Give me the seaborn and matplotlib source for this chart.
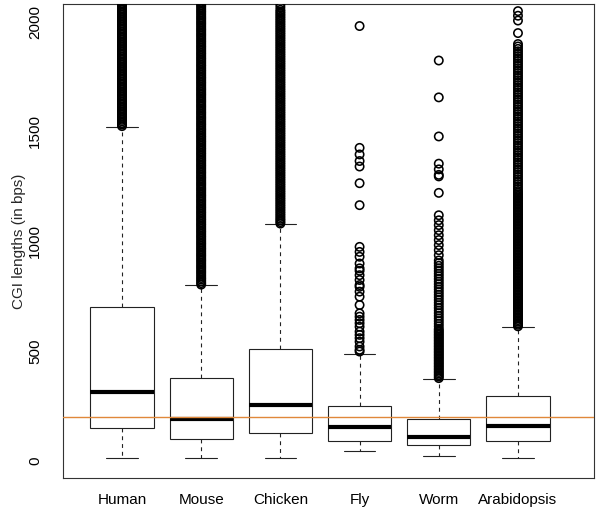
import numpy as np
import pandas as pd
import matplotlib
matplotlib.use("Agg")
import matplotlib.pyplot as plt
import seaborn as sns

species = ["Human", "Mouse", "Chicken", "Fly", "Worm", "Arabidopsis"]

# five-number summaries (whisker ends, quartiles, median)
whisker_low = [10, 10, 12, 45, 23, 10]
q1 = [150, 100, 127, 91, 73, 91]
median = [314, 191, 255, 155, 109, 159]
q3 = [698, 378, 507, 251, 191, 296]
whisker_high = [1520, 800, 1078, 487, 372, 610]

# outliers (dense runs read as closely spaced values)
human_out = [1524, 1531, 1538, 1546, 1553, 1561, 1568, 1576, 1583, 1591, 1598, 1606,
             1613, 1621, 1628, 1636, 1644, 1651, 1659, 1666, 1674, 1681, 1689, 1697,
             1704, 1712, 1719, 1727, 1735, 1742, 1750, 1757, 1765, 1773, 1780, 1788,
             1795, 1803, 1811, 1818, 1826, 1833, 1841, 1849, 1856, 1864, 1871, 1879,
             1887, 1894, 1902, 1909, 1917, 1925, 1932, 1940, 1947, 1955, 1963, 1970,
             1978, 1985, 1993, 2001, 2008, 2016, 2023, 2031, 2039, 2046, 2054, 2061,
             2069, 2077, 2084, 2092]
mouse_out = [802, 809, 817, 825, 832, 840, 848, 856, 863, 871, 879, 886, 894, 902, 910,
             917, 925, 933, 940, 948, 956, 964, 971, 979, 987, 994, 1002, 1010, 1018,
             1025, 1033, 1041, 1048, 1056, 1064, 1072, 1079, 1087, 1095, 1102, 1110,
             1118, 1126, 1133, 1141, 1149, 1156, 1164, 1172, 1180, 1187, 1195, 1203,
             1210, 1218, 1226, 1234, 1241, 1249, 1257, 1264, 1272, 1280, 1288, 1295,
             1303, 1311, 1318, 1326, 1334, 1342, 1349, 1357, 1365, 1372, 1380, 1388,
             1396, 1403, 1411, 1419, 1426, 1434, 1442, 1450, 1457, 1465, 1473, 1480,
             1488, 1496, 1504, 1511, 1519, 1527, 1534, 1542, 1550, 1558, 1565, 1573,
             1581, 1588, 1596, 1604, 1612, 1619, 1627, 1635, 1642, 1650, 1658, 1666,
             1673, 1681, 1689, 1696, 1704, 1712, 1720, 1727, 1735, 1743, 1750, 1758,
             1766, 1774, 1781, 1789, 1797, 1804, 1812, 1820, 1828, 1835, 1843, 1851,
             1858, 1866, 1874, 1882, 1889, 1897, 1905, 1912, 1920, 1928, 1936, 1943,
             1951, 1959, 1966, 1974, 1982, 1990, 1997, 2005, 2013, 2020, 2028, 2036,
             2044, 2051, 2059, 2067, 2074, 2082, 2090]
chicken_out = [1080, 1087, 1095, 1102, 1110, 1118, 1126, 1134, 1142, 1150, 1158, 1166,
               1174, 1182, 1190, 1198, 1206, 1214, 1222, 1230, 1238, 1246, 1254, 1262,
               1270, 1278, 1286, 1294, 1302, 1310, 1318, 1326, 1334, 1342, 1350, 1358,
               1366, 1374, 1382, 1390, 1398, 1406, 1414, 1422, 1430, 1438, 1446, 1454,
               1462, 1470, 1478, 1486, 1494, 1502, 1510, 1518, 1526, 1534, 1542, 1550,
               1558, 1566, 1574, 1582, 1590, 1598, 1606, 1614, 1622, 1630, 1638, 1646,
               1654, 1662, 1670, 1678, 1686, 1694, 1702, 1710, 1718, 1726, 1734, 1742,
               1750, 1758, 1766, 1774, 1782, 1790, 1798, 1806, 1814, 1822, 1830, 1838,
               1846, 1854, 1862, 1870, 1878, 1886, 1894, 1902, 1910, 1918, 1926, 1934,
               1942, 1950, 1958, 1966, 1974, 1982, 1990, 1998, 2006, 2014, 2022, 2030,
               2038, 2046, 2054, 2066, 2078]
fly_out = [497, 505, 520, 542, 558, 573, 588, 610, 626, 641, 656, 671, 709, 747, 770,
           792, 800, 823, 845, 865, 876, 898, 929, 951, 974, 1164, 1264, 1340, 1365,
           1395, 1425, 1980]
worm_out = [376, 383, 390, 397, 404, 411, 418, 425, 432, 439, 446, 453, 460, 467, 474,
            481, 488, 495, 502, 509, 516, 523, 530, 537, 544, 551, 558, 565, 572, 579,
            586, 593, 600, 612, 624, 636, 648, 660, 672, 684, 696, 708, 720, 732, 744,
            756, 768, 780, 792, 804, 816, 828, 840, 852, 864, 876, 888, 900, 912, 936,
            959, 982, 1005, 1027, 1050, 1073, 1095, 1118, 1220, 1295, 1302, 1327, 1353,
            1477, 1655, 1823]
arabidopsis_out = [612, 619, 626, 633, 640, 647, 654, 661, 668, 675, 682, 689, 696, 703,
                   710, 717, 724, 731, 738, 745, 752, 759, 766, 773, 780, 787, 794, 801,
                   808, 815, 822, 829, 836, 843, 850, 857, 864, 871, 878, 885, 892, 899,
                   906, 913, 920, 927, 934, 941, 948, 955, 962, 969, 976, 983, 990, 997,
                   1004, 1011, 1018, 1025, 1032, 1039, 1046, 1053, 1060, 1067, 1074, 1081,
                   1088, 1095, 1102, 1109, 1116, 1123, 1130, 1137, 1144, 1151, 1158, 1165,
                   1172, 1179, 1186, 1193, 1200, 1207, 1214, 1221, 1228, 1238,
                   1249, 1260, 1271, 1282, 1293, 1304, 1315, 1326, 1337, 1348, 1359, 1370,
                   1381, 1392, 1403, 1414, 1425, 1436, 1447, 1458, 1469, 1480, 1491, 1502,
                   1513, 1524, 1535, 1546, 1557, 1568, 1579, 1590, 1601, 1612, 1623, 1634,
                   1645, 1656, 1667, 1678, 1689, 1700, 1711, 1722, 1733, 1744, 1755, 1766,
                   1777, 1788, 1799, 1810, 1821, 1832, 1843, 1854, 1865, 1876, 1887, 1898,
                   1948, 2005, 2027, 2048]

threshold = 200

summary = pd.DataFrame({
    "species": np.repeat(species, 5),
    "length": np.column_stack([whisker_low, q1, median, q3, whisker_high]).ravel(),
})
out_lists = [human_out, mouse_out, chicken_out, fly_out, worm_out, arabidopsis_out]
outliers = pd.DataFrame({
    "species": np.concatenate([[s] * len(v) for s, v in zip(species, out_lists)]),
    "length": np.concatenate(out_lists),
})

sns.set_style("white")
plt.rcParams["font.family"] = ["Liberation Sans", "DejaVu Sans"]

fig = plt.figure(figsize=(6, 5.12), dpi=100)
ax = fig.add_axes([0.105, 0.066, 0.885, 0.926])

sns.boxplot(data=summary, x="species", y="length", order=species, whis=(0, 100),
            showfliers=False, width=0.8, color="white", linecolor="#222222",
            linewidth=0.8, medianprops=dict(linewidth=3, color="black"),
            whiskerprops=dict(linestyle=(0, (3.5, 3.5))), ax=ax)
ax.axhline(threshold, color="#E0883A", linewidth=1.0, zorder=5)
sns.stripplot(data=outliers, x="species", y="length", order=species, jitter=False,
              color="black", facecolors="none", edgecolor="black", linewidth=1.15,
              size=6, ax=ax)

ax.set_xlim(-0.745, 5.96)
ax.set_ylim(-80, 2080)
ax.set_yticks([0, 500, 1000, 1500, 2000])
ax.set_yticklabels(["0", "500", "1000", "1500", "2000"], rotation=90, va="center")
ax.tick_params(axis="both", direction="out", length=7, width=0.8, colors="#333333",
               labelcolor="black", labelsize=11)
ax.tick_params(axis="y", pad=8)
ax.tick_params(axis="x", pad=4)
for sp in ax.spines.values():
    sp.set_visible(True)
    sp.set_color("#333333")
    sp.set_linewidth(0.8)
ax.set_xlabel("")
ax.set_ylabel("CGI lengths (in bps)", fontsize=11, labelpad=1.5)

fig.savefig("out.png", dpi=100)
